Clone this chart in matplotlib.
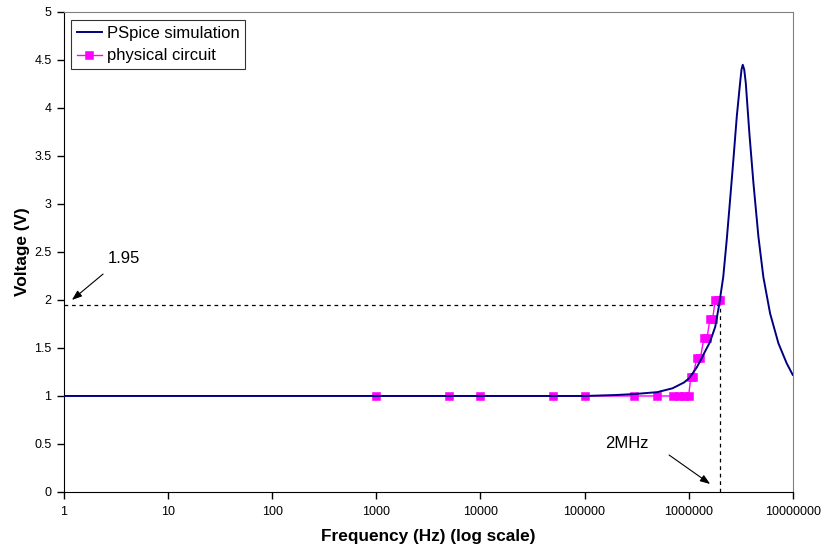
import numpy as np
import matplotlib.pyplot as plt

#frequency response: PSpice run vs measured circuit
plt.rcParams['font.family'] = ['Liberation Sans', 'DejaVu Sans']

# PSpice simulation (Hz, V)
simFreq = [1, 10, 100, 1000, 10000, 100000, 200000, 300000, 500000, 700000,
           900000, 1000000, 1100000, 1200000, 1300000, 1400000, 1600000, 1800000,
           1950000, 2150000, 2320000, 2500000, 2690000, 2900000, 3120000, 3220000,
           3310000, 3420000, 3540000, 3830000, 4190000, 4680000, 5220000, 6060000,
           7280000, 8750000, 10000000]
simVolt = [1.0, 1.0, 1.0, 1.0, 1.0, 1.0, 1.01, 1.02, 1.04, 1.08,
           1.14, 1.18, 1.24, 1.30, 1.37, 1.44, 1.56, 1.72,
           1.93, 2.24, 2.62, 3.04, 3.46, 3.91, 4.26, 4.40,
           4.45, 4.40, 4.26, 3.74, 3.22, 2.66, 2.24, 1.86,
           1.55, 1.34, 1.22]

# physical circuit measurements (Hz, V)
measFreq = [1000, 5000, 10000, 50000, 100000, 300000, 500000, 700000, 800000,
            900000, 1000000, 1050000, 1100000, 1200000, 1300000, 1400000, 1500000,
            1600000, 1700000, 1800000, 1900000, 2000000]
measVolt = [1.0, 1.0, 1.0, 1.0, 1.0, 1.0, 1.0, 1.0, 1.0,
            1.0, 1.0, 1.2, 1.2, 1.4, 1.4, 1.6, 1.6,
            1.8, 1.8, 2.0, 2.0, 2.0]

hLineV = 1.95
vLineF = 2000000

fig = plt.figure(figsize=(8.22, 5.5), dpi=100)
ax = fig.add_axes([0.0779, 0.1055, 0.8865, 0.8727])

ax.plot(simFreq, simVolt, color="#000080", lw=1.4, label="PSpice simulation", zorder=3)
ax.plot(measFreq, measVolt, color="#FF00FF", lw=1.0, marker="s", markersize=5.2,
        markeredgewidth=0.4, markeredgecolor="#FF00FF", label="physical circuit", zorder=2)

# guide lines
ax.plot([1, vLineF], [hLineV, hLineV], color="black", lw=0.9, ls=(0, (3, 3)), zorder=1)
ax.plot([vLineF, vLineF], [0, hLineV], color="black", lw=0.9, ls=(0, (3, 3)), zorder=1)

arrowProps = dict(arrowstyle="-|>,head_length=0.6,head_width=0.22", color="black",
                  lw=0.8, shrinkA=0, shrinkB=0)
ax.text(3.8, 2.43, "1.95", fontsize=12, ha="center", va="center")
ax.annotate("", xy=(1.19, 2.0), xytext=(2.37, 2.27), arrowprops=arrowProps)
ax.text(2.56e5, 0.51, "2MHz", fontsize=12, ha="center", va="center")
ax.annotate("", xy=(1.61e6, 0.083), xytext=(6.49e5, 0.385), arrowprops=arrowProps)

ax.set_xscale("log")
ax.set_xlim(1, 1e7)
ax.set_ylim(0, 5)
xTicks = [1, 10, 100, 1000, 10000, 100000, 1000000, 10000000]
ax.set_xticks(xTicks)
ax.set_xticklabels([str(t) for t in xTicks])
ax.xaxis.set_minor_locator(plt.NullLocator())
yTicks = [0, 0.5, 1, 1.5, 2, 2.5, 3, 3.5, 4, 4.5, 5]
ax.set_yticks(yTicks)
ax.set_yticklabels(["0", "0.5", "1", "1.5", "2", "2.5", "3", "3.5", "4", "4.5", "5"])
ax.tick_params(axis="both", direction="out", length=5, width=1, labelsize=9, pad=4)
ax.tick_params(axis="x", pad=5)

ax.spines["left"].set_color("black")
ax.spines["bottom"].set_color("black")
ax.spines["top"].set_color("#808080")
ax.spines["right"].set_color("#808080")

ax.set_xlabel("Frequency (Hz) (log scale)", fontsize=12.4, fontweight="bold", labelpad=8)
ax.set_ylabel("Voltage (V)", fontsize=12.4, fontweight="bold", labelpad=3)

leg = ax.legend(loc="upper left", bbox_to_anchor=(0.0096, 0.983), fontsize=12,
                frameon=True, fancybox=False, handlelength=1.5, borderpad=0.35,
                labelspacing=0.45, handletextpad=0.3, borderaxespad=0)
leg.get_frame().set_edgecolor("black")
leg.get_frame().set_linewidth(0.8)

plt.savefig("out.png")
plt.close()
